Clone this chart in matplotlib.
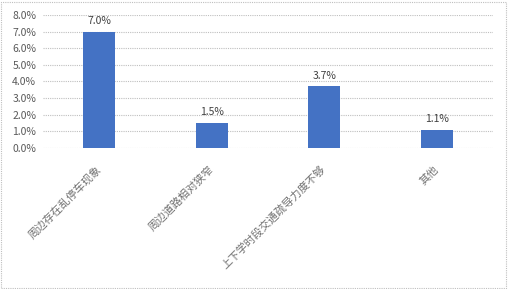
import matplotlib
matplotlib.use("Agg")
import matplotlib.pyplot as plt
from matplotlib.patches import Rectangle
from matplotlib.ticker import FuncFormatter

plt.rcParams['font.family'] = ['Noto Sans CJK SC', 'DejaVu Sans']

categories = ["周边存在乱停车现象", "周边道路相对狭窄", "上下学时段交通疏导力度不够", "其他"]
values = [7.0, 1.5, 3.7, 1.1]
labels = ["7.0%", "1.5%", "3.7%", "1.1%"]

fig = plt.figure(figsize=(5.08, 2.89), dpi=100)
ax = fig.add_axes([0.085, 0.488, 0.885, 0.46])

x = range(len(categories))
ax.bar(x, values, width=0.285, color="#4472C4", zorder=3)
for xi, v, lab in zip(x, values, labels):
    ax.text(xi, v + 0.35, lab, ha='center', va='bottom', fontsize=7.5, color="#404040")

ax.set_xlim(-0.5, len(categories) - 0.5)
ax.set_ylim(0, 8)
ax.set_yticks([0, 1, 2, 3, 4, 5, 6, 7, 8])
ax.yaxis.set_major_formatter(FuncFormatter(lambda v, p: f"{v:.1f}%"))
ax.tick_params(axis='y', length=0, labelsize=7.5, labelcolor="#595959", pad=5)
ax.grid(axis='y', color="#BFBFBF", linestyle=(0, (1, 1)), linewidth=0.8, zorder=0)
for s in ax.spines.values():
    s.set_visible(False)
ax.set_xticks(list(x))
ax.set_xticklabels(categories, rotation=45, ha='right', va='center', rotation_mode='anchor',
                   fontsize=7.8, color="#707070")
ax.tick_params(axis='x', length=0, pad=14)

fig.patches.append(Rectangle((0.001, 0.003), 0.996, 0.99, transform=fig.transFigure,
                             fill=False, edgecolor="#BFBFBF", linestyle=(0, (1, 1)), linewidth=0.8))

fig.savefig("out.png", dpi=100)
